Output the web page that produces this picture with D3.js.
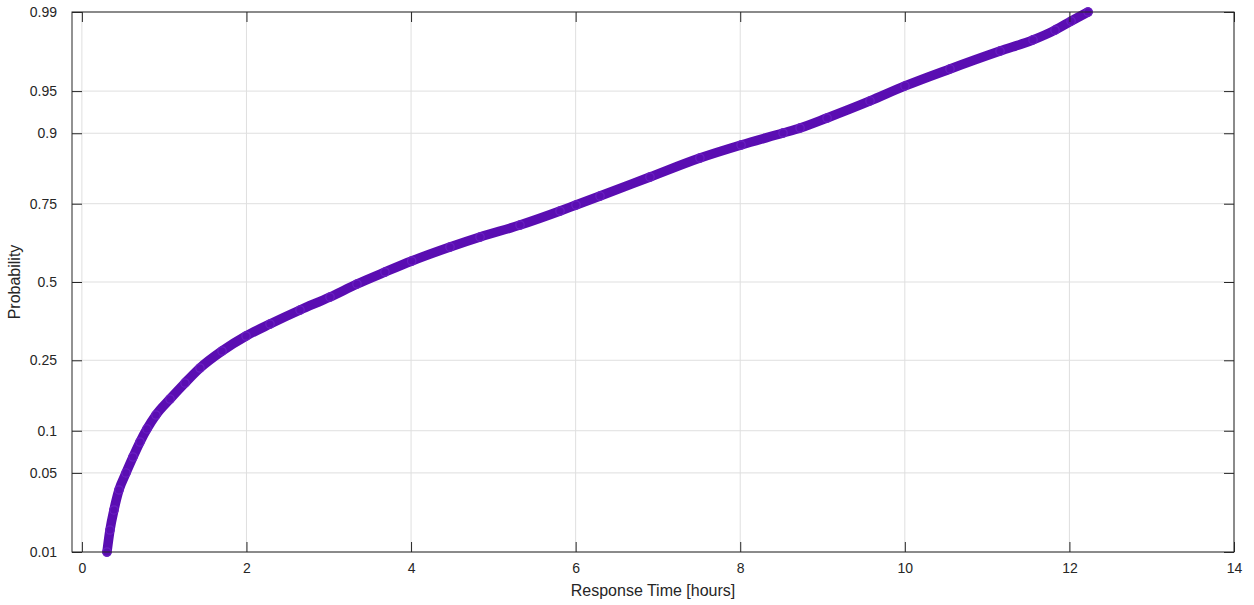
<html>
<head>
	<style>
		body { margin: 0; background: white; }
		svg text { font-family: "Liberation Sans", Arial, sans-serif; fill: #262626; }
	</style>
	<script src="https://d3js.org/d3.v7.min.js"></script>
</head>
<body>
	<script>
		// Data: response time (hours) vs. cumulative probability
		var hours = [0.305, 0.3415, 0.390, 0.451, 0.536, 0.621, 0.706, 0.791, 0.900, 1.071,
		             1.253, 1.435, 1.703, 1.995, 2.286, 2.651, 3.015, 3.343, 3.683, 4.008,
		             4.473, 4.838, 5.324, 5.81, 6.004, 6.296, 6.903, 7.51, 8.01, 8.52,
		             8.727, 9.055, 9.577, 10.002, 10.549, 11.157, 11.558, 11.825, 12.02, 12.226];
		var prob  = [0.01, 0.0163, 0.02475, 0.03657, 0.04994, 0.0658, 0.0840, 0.1027, 0.1259, 0.1567,
		             0.1921, 0.2294, 0.2761, 0.3209, 0.3587, 0.4047, 0.4486, 0.4931, 0.5343, 0.5718,
		             0.6185, 0.6509, 0.6883, 0.7296, 0.7465, 0.7706, 0.8172, 0.8573, 0.8811, 0.9004,
		             0.9077, 0.9212, 0.9406, 0.9544, 0.9668, 0.9767, 0.9815, 0.9850, 0.9877, 0.99];
		var xTicks = [0, 2, 4, 6, 8, 10, 12, 14];
		var yTicks = [0.01, 0.05, 0.1, 0.25, 0.5, 0.75, 0.9, 0.95, 0.99];

		// inverse normal cdf (Acklam approximation)
		function probit(p) {
			var a = [-39.69683028665376, 220.9460984245205, -275.9285104469687, 138.3577518672690, -30.66479806614716, 2.506628277459239];
			var b = [-54.47609879822406, 161.5858368580409, -155.6989798598866, 66.80131188771972, -13.28068155288572];
			var c = [-0.007784894002430293, -0.3223964580411365, -2.400758277161838, -2.549732539343734, 4.374664141464968, 2.938163982698783];
			var d = [0.007784695709041462, 0.3224671290700398, 2.445134137142996, 3.754408661907416];
			var q, r;
			if (p < 0.02425) {
				q = Math.sqrt(-2 * Math.log(p));
				return (((((c[0]*q+c[1])*q+c[2])*q+c[3])*q+c[4])*q+c[5]) / ((((d[0]*q+d[1])*q+d[2])*q+d[3])*q+1);
			}
			if (p > 1 - 0.02425) {
				q = Math.sqrt(-2 * Math.log(1 - p));
				return -(((((c[0]*q+c[1])*q+c[2])*q+c[3])*q+c[4])*q+c[5]) / ((((d[0]*q+d[1])*q+d[2])*q+d[3])*q+1);
			}
			q = p - 0.5; r = q * q;
			return (((((a[0]*r+a[1])*r+a[2])*r+a[3])*r+a[4])*r+a[5])*q / (((((b[0]*r+b[1])*r+b[2])*r+b[3])*r+b[4])*r+1);
		}

		// plot box (window.top is read-only, so not named "top")
		var W = 1254, H = 605;
		var boxL = 72, boxR = 1234, boxT = 12, boxB = 552;

		var x = d3.scaleLinear().domain([-0.12, 14]).range([boxL, boxR]);
		var y = d3.scaleLinear().domain([probit(0.01), probit(0.99)]).range([boxB, boxT]);

		var svg = d3.select("body").append("svg").attr("width", W).attr("height", H);

		// grid
		svg.append("g").selectAll("line").data(xTicks).enter().append("line")
			.attr("x1", function(d) { return x(d); }).attr("x2", function(d) { return x(d); })
			.attr("y1", boxT).attr("y2", boxB)
			.attr("stroke", "#dfdfdf").attr("stroke-width", 1);
		svg.append("g").selectAll("line").data(yTicks).enter().append("line")
			.attr("x1", boxL).attr("x2", boxR)
			.attr("y1", function(d) { return y(probit(d)); }).attr("y2", function(d) { return y(probit(d)); })
			.attr("stroke", "#dfdfdf").attr("stroke-width", 1);

		// data (thick trail plus circle markers)
		var pts = hours.map(function(h, i) { return [h, prob[i]]; });
		var line = d3.line()
			.x(function(d) { return x(d[0]); })
			.y(function(d) { return y(probit(d[1])); })
			.curve(d3.curveMonotoneX);
		svg.append("path").datum(pts)
			.attr("d", line)
			.attr("fill", "none")
			.attr("stroke", "#5a0db2")
			.attr("stroke-width", 9.5)
			.attr("stroke-linecap", "round");
		svg.append("g").selectAll("circle").data(pts).enter().append("circle")
			.attr("cx", function(d) { return x(d[0]); })
			.attr("cy", function(d) { return y(probit(d[1])); })
			.attr("r", 4.2)
			.attr("fill", "#5a0db2")
			.attr("stroke", "#6a1fc2")
			.attr("stroke-width", 1.2);

		// axes (ticks inward, on all four sides)
		var fmtY = function(d) { return yTicks.find(function(p) { return Math.abs(probit(p) - d) < 1e-9; }); };
		var yTickZ = yTicks.map(probit);

		var ax = svg.append("g").attr("transform", "translate(0," + boxB + ")")
			.call(d3.axisBottom(x).tickValues(xTicks).tickSizeInner(-10).tickSizeOuter(0).tickPadding(11));
		var axTop = svg.append("g").attr("transform", "translate(0," + boxT + ")")
			.call(d3.axisTop(x).tickValues(xTicks).tickSizeInner(-10).tickSizeOuter(0).tickFormat(""));
		var ay = svg.append("g").attr("transform", "translate(" + boxL + ",0)")
			.call(d3.axisLeft(y).tickValues(yTickZ).tickSizeInner(-10).tickSizeOuter(0).tickPadding(15).tickFormat(fmtY));
		var ayR = svg.append("g").attr("transform", "translate(" + boxR + ",0)")
			.call(d3.axisRight(y).tickValues(yTickZ).tickSizeInner(-10).tickSizeOuter(0).tickFormat(""));

		[ax, axTop, ay, ayR].forEach(function(g) {
			g.select(".domain").remove();
			g.selectAll(".tick line").attr("stroke", "#262626");
			g.selectAll("text").style("font-size", "14px").attr("fill", "#333");
		});

		// box
		svg.append("rect")
			.attr("x", boxL).attr("y", boxT)
			.attr("width", boxR - boxL).attr("height", boxB - boxT)
			.attr("fill", "none").attr("stroke", "#262626").attr("stroke-width", 1);

		// labels
		svg.append("text")
			.attr("x", (boxL + boxR) / 2).attr("y", 596)
			.attr("text-anchor", "middle")
			.style("font-size", "16px")
			.attr("fill", "#333")
			.text("Response Time [hours]");
		svg.append("text")
			.attr("transform", "translate(20," + ((boxT + boxB) / 2) + ") rotate(-90)")
			.attr("text-anchor", "middle")
			.style("font-size", "16px")
			.attr("fill", "#333")
			.text("Probability");
	</script>
</body>
</html>
